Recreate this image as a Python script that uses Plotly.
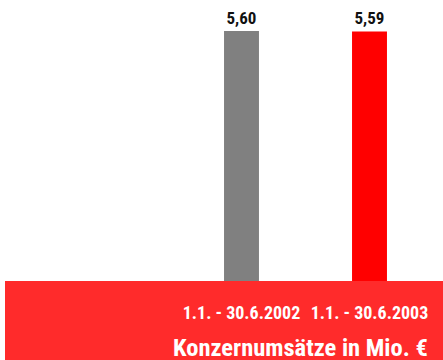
import plotly.graph_objects as go

# Half-year group revenue, in millions of euros
periods = ["1.1. - 30.6.2002", "1.1. - 30.6.2003"]
revenue = [5.60, 5.59]
bar_colors = ["#808080", "#ff0000"]
title_text = "Konzernumsätze in Mio. €"

FONT = "Liberation Sans Narrow, Roboto Condensed, Archivo Narrow, Barlow Condensed, sans-serif"

fig = go.Figure(
    go.Bar(
        x=[0, 1],
        y=revenue,
        width=0.273,
        marker=dict(color=bar_colors, line=dict(width=0)),
        texttemplate="<b>%{y:.2f}</b>",
        textposition="outside",
        cliponaxis=False,
        textfont=dict(family=FONT, size=17, color="#111111"),
        hoverinfo="skip",
    )
)

# Red footer band under the bars
fig.add_shape(
    type="rect", xref="paper", yref="paper",
    x0=5 / 443, x1=1, y0=-79 / 281, y1=0,
    fillcolor="#ff2b2b", line=dict(width=0), layer="below",
)

fig.add_annotation(
    text="<b>" + title_text + "</b>",
    xref="paper", yref="paper", x=430 / 443, y=-66 / 281,
    xanchor="right", yanchor="middle", showarrow=False,
    font=dict(family=FONT, size=24.5, color="white"),
)

fig.update_layout(
    width=443, height=360,
    margin=dict(l=0, r=0, t=0, b=79, autoexpand=False),
    paper_bgcolor="white", plot_bgcolor="white",
    separators=",.",
    showlegend=False,
    xaxis=dict(
        range=[-241.5 / 128, (443 - 241.5) / 128],
        tickvals=[0, 1], ticktext=["<b>" + p + "</b>" for p in periods],
        tickfont=dict(family=FONT, size=18, color="white"),
        tickangle=0, automargin=False,
        ticks="", ticklabelstandoff=19,
        showgrid=False, zeroline=False, showline=False,
    ),
    yaxis=dict(range=[0, 281 / 44.64], visible=False, automargin=False),
)

fig.write_html("out.html")
